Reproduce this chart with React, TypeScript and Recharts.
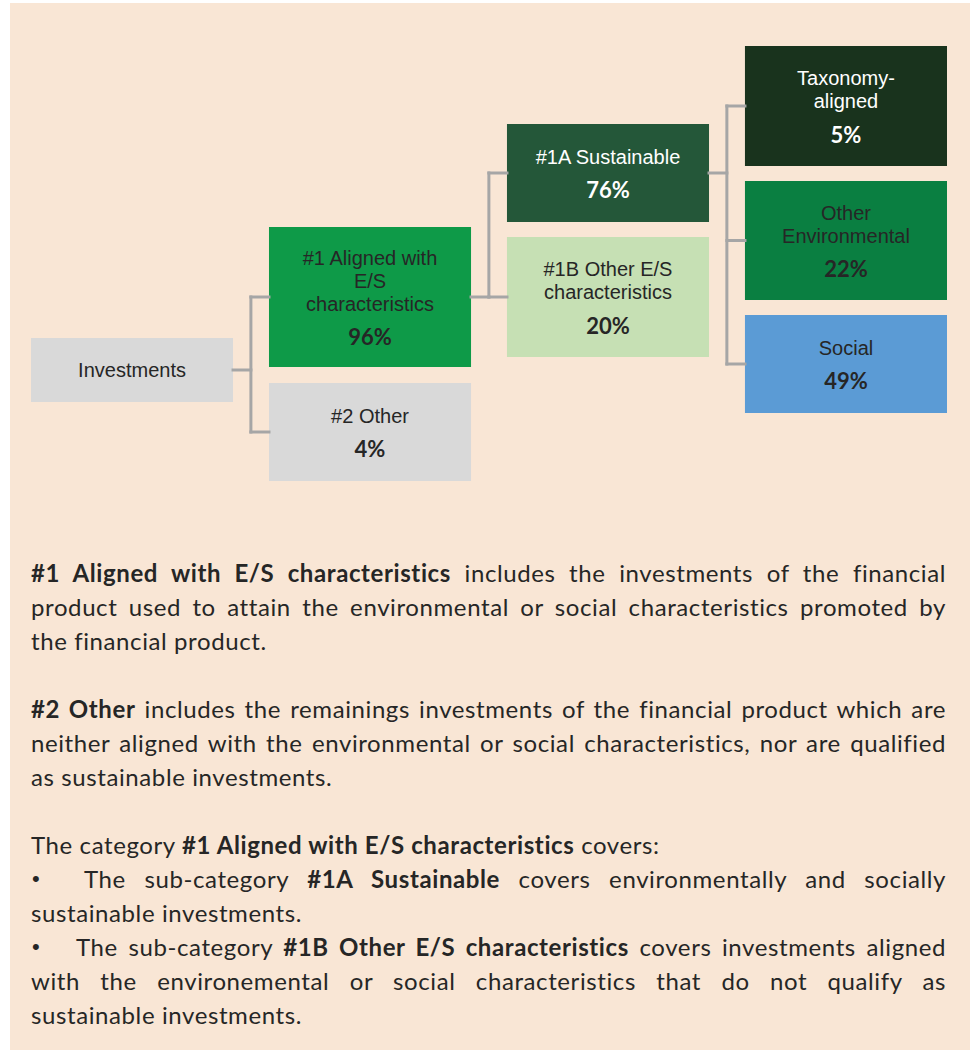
import React from "react";
import { ComposedChart, XAxis, YAxis, ReferenceArea, ReferenceLine } from "recharts";

// tree nodes
const NODE_IDS = ["inv", "al", "oth", "sus", "oes", "tax", "env", "soc"];
const NODE_LABELS = [
    "Investments",
    "#1 Aligned with\nE/S\ncharacteristics",
    "#2 Other",
    "#1A Sustainable",
    "#1B Other E/S\ncharacteristics",
    "Taxonomy-\naligned",
    "Other\nEnvironmental",
    "Social",
];
const NODE_PCTS = [null, 96, 4, 76, 20, 5, 22, 49];
const NODE_PARENTS = [null, "inv", "inv", "al", "al", "sus", "sus", "sus"];
const NODE_LEVELS = [0, 1, 1, 2, 2, 3, 3, 3];

// vertical extent of each box, in chart units (top, bottom)
const BOX_Y: [number, number][] = [
    [298, 362],
    [187, 327],
    [343, 441],
    [84, 182],
    [197, 317],
    [6, 126],
    [141, 260],
    [275, 373],
];
const FILLS = ["#d9d9d9", "#0e9a48", "#d9d9d9", "#245739", "#c6e0b4", "#19331d", "#0a7f41", "#5b9bd5"];
const TEXT_COLORS = ["#262626", "#262626", "#262626", "#ffffff", "#262626", "#ffffff", "#262626", "#262626"];

const BOX_W = 0.849;
const JOIN = 0.924;
const CHART_W = 916;
const CHART_H = 450;

const BODY_LINES = [
    "**#1 Aligned with E/S characteristics** includes the investments of the financial",
    "product used to attain the environmental or social characteristics promoted by",
    "the financial product.",
    "",
    "**#2 Other** includes the remainings investments of the financial product which are",
    "neither aligned with the environmental or social characteristics, nor are qualified",
    "as sustainable investments.",
    "",
    "The category **#1 Aligned with E/S characteristics** covers:",
    "The sub-category **#1A Sustainable** covers environmentally and socially",
    "sustainable investments.",
    "The sub-category **#1B Other E/S characteristics** covers investments aligned",
    "with the environemental or social characteristics that do not qualify as",
    "sustainable investments.",
];
const JUSTIFIED = [true, true, false, false, true, true, false, false, false, true, false, true, true, false];
const BULLET_INDENT = [0, 0, 0, 0, 0, 0, 0, 0, 0, 52, 0, 44, 0, 0];

function NodeBox(props: any) {
    const { x, y, width, height, idx } = props;
    const lines = NODE_LABELS[idx].split("\n");
    const pct = NODE_PCTS[idx];
    const lh = 23;
    const gap = 33;
    const span = (lines.length - 1) * lh + (pct != null ? gap : 0);
    const cx = x + width / 2;
    const top = y + height / 2 - span / 2;
    const color = TEXT_COLORS[idx];
    return (
        <g>
            <rect x={x} y={y} width={width} height={height} fill={FILLS[idx]} />
            {lines.map((l, i) => (
                <text
                    key={i}
                    x={cx}
                    y={top + i * lh}
                    textAnchor="middle"
                    dominantBaseline="central"
                    fontFamily="'Liberation Sans', Arial, sans-serif"
                    fontSize={20}
                    fill={color}
                >
                    {l}
                </text>
            ))}
            {pct != null && (
                <text
                    x={cx}
                    y={top + (lines.length - 1) * lh + gap}
                    textAnchor="middle"
                    dominantBaseline="central"
                    fontFamily="Lato, sans-serif"
                    fontWeight={700}
                    fontSize={22}
                    fill={color}
                >
                    {`${pct}%`}
                </text>
            )}
        </g>
    );
}

function renderParts(s: string) {
    return s.split("**").map((p, i) =>
        i % 2 === 1 ? (
            <b key={i} style={{ fontWeight: 700 }}>
                {p}
            </b>
        ) : (
            <span key={i}>{p}</span>
        )
    );
}

export default function App() {
    const centerY = (i: number) => (BOX_Y[i][0] + BOX_Y[i][1]) / 2;

    const segments: { x: number; y: number }[][] = [];
    NODE_IDS.forEach((id, p) => {
        const kids = NODE_PARENTS.map((par, i) => (par === id ? i : -1)).filter((i) => i >= 0);
        if (!kids.length) return;
        const lv = NODE_LEVELS[p];
        const py = centerY(p);
        const jx = lv + JOIN;
        const ys = [py, ...kids.map(centerY)];
        segments.push([{ x: lv + BOX_W, y: py }, { x: jx, y: py }]);
        segments.push([{ x: jx, y: Math.min(...ys) }, { x: jx, y: Math.max(...ys) }]);
        kids.forEach((k) => {
            segments.push([{ x: jx, y: centerY(k) }, { x: NODE_LEVELS[k], y: centerY(k) }]);
        });
    });

    return (
        <div
            style={{
                position: "absolute",
                left: 10,
                top: 3,
                width: 960,
                height: 1047,
                background: "#f9e6d5",
            }}
        >
            <div style={{ position: "absolute", left: 21, top: 37 }}>
                <ComposedChart width={CHART_W} height={CHART_H} margin={{ top: 0, right: 0, bottom: 0, left: 0 }}>
                    <XAxis type="number" dataKey="x" domain={[0, 3 + BOX_W]} hide allowDataOverflow />
                    <YAxis type="number" dataKey="y" domain={[0, CHART_H]} reversed hide allowDataOverflow />
                    {segments.map((s, i) => (
                        <ReferenceLine
                            key={`c${i}`}
                            segment={s}
                            stroke="#a6a6a6"
                            strokeWidth={3}
                            strokeLinecap="square"
                            ifOverflow="visible"
                        />
                    ))}
                    {NODE_IDS.map((id, i) => (
                        <ReferenceArea
                            key={id}
                            x1={NODE_LEVELS[i]}
                            x2={NODE_LEVELS[i] + BOX_W}
                            y1={BOX_Y[i][0]}
                            y2={BOX_Y[i][1]}
                            ifOverflow="visible"
                            shape={(p: any) => <NodeBox {...p} idx={i} />}
                        />
                    ))}
                </ComposedChart>
            </div>
            <div
                style={{
                    position: "absolute",
                    left: 21,
                    top: 553,
                    width: 915,
                    fontFamily: "Lato, sans-serif",
                    fontSize: 24,
                    letterSpacing: 0.6,
                    lineHeight: "34px",
                    color: "#262626",
                }}
            >
                {BODY_LINES.map((line, i) => {
                    const just = JUSTIFIED[i];
                    const body = (
                        <div
                            style={{
                                flex: 1,
                                textAlign: just ? "justify" : "left",
                                textAlignLast: just ? "justify" : "left",
                                height: 34,
                            }}
                        >
                            {renderParts(line)}
                        </div>
                    );
                    if (BULLET_INDENT[i]) {
                        return (
                            <div key={i} style={{ display: "flex", height: 34 }}>
                                <span style={{ width: BULLET_INDENT[i], paddingLeft: 1, fontSize: 22, fontFamily: "'Liberation Sans', Arial, sans-serif" }}>•</span>
                                {body}
                            </div>
                        );
                    }
                    return (
                        <div key={i} style={{ display: "flex", height: 34 }}>
                            {body}
                        </div>
                    );
                })}
            </div>
        </div>
    );
}
